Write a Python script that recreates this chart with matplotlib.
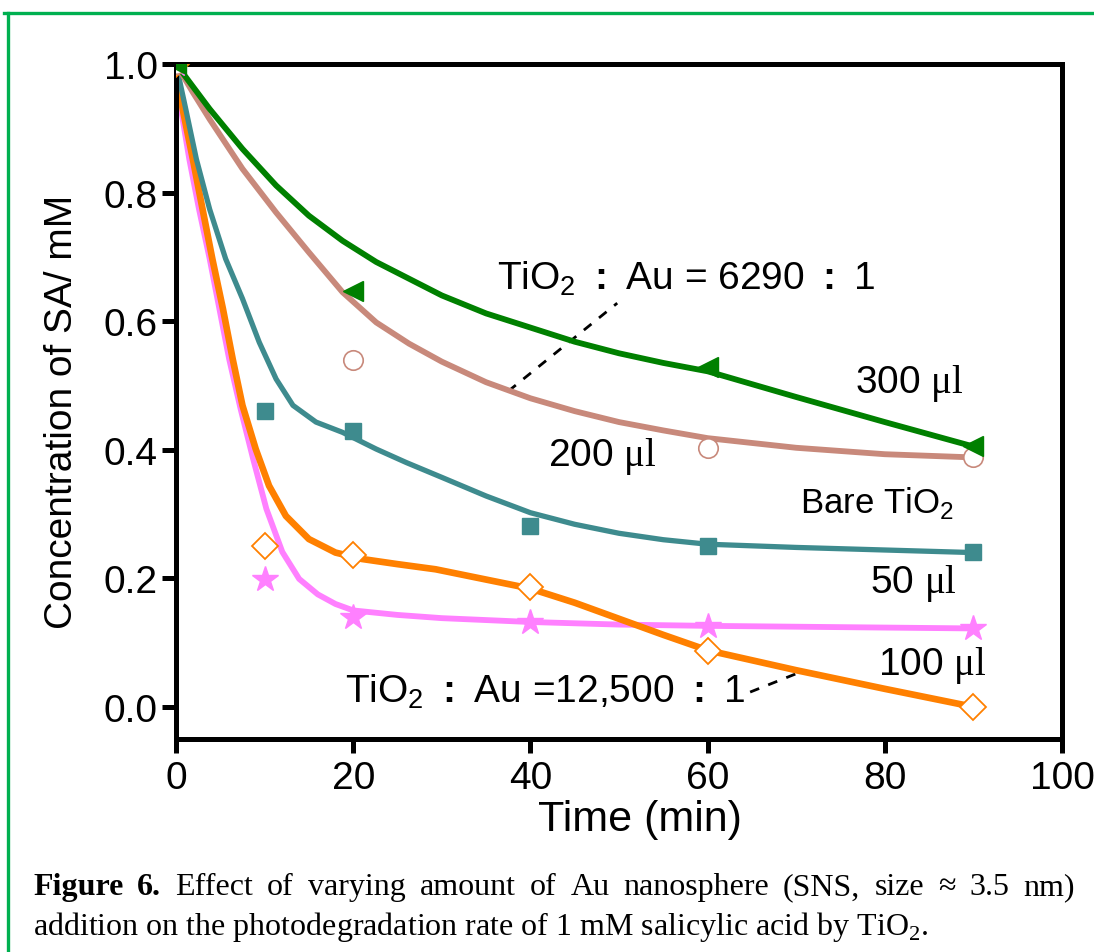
import numpy as np
import matplotlib
matplotlib.use('Agg')
import matplotlib.pyplot as plt
from matplotlib.lines import Line2D

plt.rcParams['font.family'] = ['Liberation Sans', 'DejaVu Sans']
plt.rcParams['mathtext.fontset'] = 'custom'
plt.rcParams['mathtext.rm'] = 'Liberation Serif'
plt.rcParams['mathtext.sf'] = 'Liberation Sans'
plt.rcParams['mathtext.bf'] = 'Liberation Sans:bold'

# measured points
t_pts = [0, 10, 20, 40, 60, 90]
t_pts_few = [0, 20, 60, 90]
sa_300 = [1.0, 0.647, 0.529, 0.406]
sa_200 = [1.0, 0.540, 0.403, 0.389]
sa_bare = [1.0, 0.460, 0.429, 0.281, 0.250, 0.241]
sa_100 = [1.0, 0.250, 0.236, 0.187, 0.087, 0.0]
sa_50 = [1.0, 0.199, 0.140, 0.132, 0.126, 0.123]

# fitted curves
fit_t_300 = [0, 3.8, 7.5, 11.3, 15, 18.8, 22.6, 26.3, 30, 35, 40, 45, 50, 55, 60, 70, 80, 90]
fit_300 = [1.0, 0.930, 0.868, 0.811, 0.764, 0.725, 0.692, 0.666, 0.640, 0.612, 0.590,
           0.568, 0.550, 0.535, 0.522, 0.482, 0.443, 0.405]
fit_t_200 = [0, 1.9, 3.8, 7.5, 11.3, 15, 18.8, 22.6, 26.3, 30, 35, 40, 45, 50, 55, 60, 70, 80, 90]
fit_200 = [1.0, 0.956, 0.914, 0.837, 0.769, 0.707, 0.645, 0.598, 0.565, 0.537, 0.505, 0.480,
           0.460, 0.443, 0.430, 0.418, 0.403, 0.393, 0.388]
fit_t_bare = [0, 1.1, 2.3, 3.8, 5.6, 7.5, 9.4, 11.3, 13.2, 15.8, 18.8, 22.6, 26, 30, 35, 40,
              45, 50, 55, 60, 70, 80, 90]
fit_bare = [1.0, 0.930, 0.852, 0.774, 0.697, 0.635, 0.567, 0.510, 0.469, 0.443, 0.427, 0.401,
            0.380, 0.357, 0.328, 0.302, 0.284, 0.270, 0.260, 0.253, 0.248, 0.244, 0.240]
fit_t_100 = [0, 0.75, 1.9, 3.0, 4.1, 5.3, 6.4, 7.5, 9.0, 10.5, 12.4, 15, 18, 21, 25, 29.3,
             35, 40, 45, 50, 55, 60, 70, 80, 90]
fit_100 = [1.0, 0.930, 0.852, 0.774, 0.697, 0.619, 0.541, 0.469, 0.401, 0.344, 0.297, 0.261,
           0.240, 0.230, 0.222, 0.214, 0.198, 0.184, 0.162, 0.137, 0.112, 0.088, 0.057, 0.028, 0.0]
fit_t_50 = [0, 0.56, 1.5, 2.6, 3.8, 4.9, 6.0, 7.3, 8.7, 10.2, 12.0, 13.9, 16, 18, 20, 25, 30,
            40, 50, 60, 75, 90]
fit_50 = [1.0, 0.930, 0.852, 0.774, 0.697, 0.619, 0.541, 0.463, 0.386, 0.308, 0.241, 0.199,
          0.175, 0.160, 0.150, 0.143, 0.138, 0.132, 0.128, 0.126, 0.124, 0.122]

c_green = '#008000'
c_brown = '#C8897B'
c_teal = '#3E8B8E'
c_orange = '#FF8000'
c_pink = '#FF80FF'

fig = plt.figure(figsize=(10.94, 9.53), dpi=100)
ax = fig.add_axes([176/1094, 1-740/953, (1062-176)/1094, (740-65)/953])

lw = 4.2
ax.plot(fit_t_50, fit_50, color=c_pink, lw=lw, zorder=2, solid_joinstyle='round')
ax.plot(fit_t_100, fit_100, color=c_orange, lw=lw+0.6, zorder=2.1, solid_joinstyle='round')
ax.plot(fit_t_bare, fit_bare, color=c_teal, lw=lw-0.4, zorder=2.2, solid_joinstyle='round')
ax.plot(fit_t_200, fit_200, color=c_brown, lw=lw, zorder=2.3, solid_joinstyle='round')
ax.plot(fit_t_300, fit_300, color=c_green, lw=lw, zorder=2.4, solid_joinstyle='round')

ax.plot(t_pts, sa_50, ls='none', marker='*', ms=19, color=c_pink, mec=c_pink, zorder=3)
ax.plot(t_pts, sa_100, ls='none', marker='D', ms=13, mfc='white', mec=c_orange, mew=1.3, zorder=3)
ax.plot(t_pts, sa_bare, ls='none', marker='s', ms=12, color=c_teal, zorder=3)
ax.plot(t_pts_few, sa_200, ls='none', marker='o', ms=14, mfc='white', mec=c_brown, mew=1.2, zorder=3)
ax.plot(t_pts_few, sa_300, ls='none', marker='<', ms=15, color=c_green, zorder=3)

ax.set_xlim(0, 100)
ax.set_ylim(-0.05, 1.0)
ax.set_xticks([0, 20, 40, 60, 80, 100])
ax.set_yticks([0.0, 0.2, 0.4, 0.6, 0.8, 1.0])
ax.set_yticklabels(['0.0', '0.2', '0.4', '0.6', '0.8', '1.0'])
for s in ax.spines.values():
    s.set_linewidth(3.6)
ax.tick_params(direction='out', length=10, width=3.6, labelsize=28)
ax.tick_params(axis='x', pad=5)
ax.tick_params(axis='y', pad=3)

ax.set_xlabel('Time (min)', fontsize=31)
ax.xaxis.set_label_coords((640-176)/886, -(800-740)/675, transform=ax.transAxes)
ax.xaxis.label.set_va('top')
ax.set_ylabel('Concentration of SA/ mM', fontsize=28)
ax.yaxis.set_label_coords(-(176-62)/886, (740-412)/675, transform=ax.transAxes)
ax.yaxis.label.set_va('center')
ax.yaxis.label.set_ha('center')

# annotations
ax.text(36.2, 0.650, r'TiO$_\mathsf{2}$ $\mathbf{:}$ Au = 6290 $\mathbf{:}$ 1', fontsize=28, ha='left', va='baseline')
ax.plot([37.5, 49.8], [0.491, 0.628], color='black', lw=2, ls=(0, (3.5, 3.5)))
ax.text(19.1, 0.008, r'TiO$_\mathsf{2}$ $\mathbf{:}$ Au =12,500 $\mathbf{:}$ 1', fontsize=28, ha='left', va='baseline')
ax.plot([64.8, 69.9], [0.023, 0.051], color='black', lw=2, ls=(0, (3.5, 3.5)))

ax.text(76.6, 0.490, r'300 $\mathrm{\mu l}$', fontsize=28, ha='left', va='baseline')
ax.text(42.0, 0.376, r'200 $\mathrm{\mu l}$', fontsize=28, ha='left', va='baseline')
ax.text(70.4, 0.303, r'Bare TiO$_\mathsf{2}$', fontsize=25, ha='left', va='baseline')
ax.text(78.3, 0.179, r'50 $\mathrm{\mu l}$', fontsize=28, ha='left', va='baseline')
ax.text(79.2, 0.051, r'100 $\mathrm{\mu l}$', fontsize=28, ha='left', va='baseline')

# green frame around the figure
frame_c = '#00B050'
fig.add_artist(Line2D([4/1094, 1.0], [1-14/953, 1-14/953], color=frame_c, lw=2.4))
fig.add_artist(Line2D([8/1094, 8/1094], [0, 1-14/953], color=frame_c, lw=2.4))

# caption, first line justified between x=33 and x=1075 px
cap_size = 23
cap_left, cap_right = 33, 1075
fig.canvas.draw()
r = fig.canvas.get_renderer()
words = [('Figure', 'bold'), ('6.', 'bold'), ('Effect', 'normal'), ('of', 'normal'),
         ('varying', 'normal'), ('amount', 'normal'), ('of', 'normal'), ('Au', 'normal'),
         ('nanosphere', 'normal'), ('(SNS,', 'normal'), ('size', 'normal'), ('\u2248', 'normal'),
         ('3.5', 'normal'), ('nm)', 'normal')]
arts = []
for w, wt in words:
    a = fig.text(0, 1-895/953, w, fontsize=cap_size, family='Liberation Serif',
                 weight=wt, ha='left', va='baseline')
    arts.append(a)
widths = [a.get_window_extent(renderer=r).width for a in arts]
gap = (cap_right - cap_left - sum(widths)) / (len(words) - 1)
x = cap_left
for a, w in zip(arts, widths):
    a.set_x(x / 1094)
    x += w + gap
fig.text(cap_left/1094, 1-935/953,
         r'addition on the photodegradation rate of 1 mM salicylic acid by TiO$_\mathrm{2}$.',
         fontsize=cap_size, family='Liberation Serif', ha='left', va='baseline')

fig.savefig('out.png', dpi=100)
